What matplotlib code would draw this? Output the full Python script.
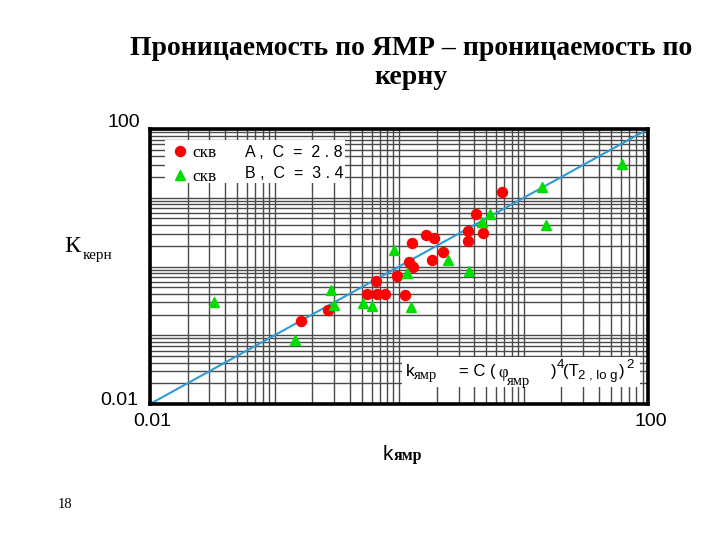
import matplotlib
matplotlib.use("Agg")
import matplotlib.pyplot as plt
from matplotlib.patches import Rectangle
from matplotlib.lines import Line2D

# ---- data ----
well_a_knmr = [0.162, 0.267, 0.652, 0.555, 0.667, 0.769, 0.966, 1.11, 1.19, 1.30,
               1.27, 1.63, 1.89, 1.82, 2.23, 3.57, 3.57, 4.71, 4.13, 6.65]
well_a_kcore = [0.163, 0.231, 0.621, 0.394, 0.394, 0.402, 0.728, 0.385, 1.16, 0.99,
                2.20, 2.84, 2.57, 1.23, 1.61, 3.25, 2.37, 3.10, 5.80, 12.0]
well_b_knmr = [0.0324, 0.146, 0.282, 0.298, 0.512, 0.605, 0.914, 1.16, 1.25, 2.48,
               3.65, 4.64, 5.35, 13.9, 15.0, 61.7]
well_b_kcore = [0.305, 0.0853, 0.455, 0.275, 0.290, 0.266, 1.76, 0.813, 0.260, 1.24,
                0.869, 4.44, 5.80, 14.5, 4.01, 31.0]
line_x = [0.01, 100]
line_y = [0.01, 100]
axis_limits = [0.01, 100]
tick_labels = ["0.01", "100"]
legend_labels = ["скв", "скв"]
legend_notes = ["A, C = 2.8", "B, C = 3.4"]
title = "Проницаемость по ЯМР – проницаемость по\nкерну"

SERIF = "Liberation Serif"
SANS = "Liberation Sans"
W, H = 720, 540

fig = plt.figure(figsize=(7.2, 5.4), dpi=100)
ax = fig.add_axes([150 / W, 1 - 404 / H, 498.3 / W, 275 / H])
ax.set_xscale("log")
ax.set_yscale("log")
ax.set_xlim(axis_limits)
ax.set_ylim(axis_limits)
ax.set_axisbelow(True)
ax.grid(which="both", color="#4a4a4a", lw=1.0)
ax.tick_params(which="both", length=0, labelleft=False, labelbottom=False)
for s in ax.spines.values():
    s.set_linewidth(2.6)
    s.set_color("black")

# white boxes
ax.add_patch(Rectangle((0.030, 0.8036), 0.361, 0.156, transform=ax.transAxes,
                       facecolor="white", edgecolor="none", zorder=1))
ax.add_patch(Rectangle((0.506, 0.0618), 0.478, 0.109, transform=ax.transAxes,
                       facecolor="white", edgecolor="none", zorder=1))

ax.plot(line_x, line_y, color="#2f9bd3", lw=1.5, zorder=2)
ax.plot(well_a_knmr, well_a_kcore, ls="none", marker="o", ms=7.2, color="#ff0000",
        mec="#ff0000", zorder=3)
ax.plot(well_b_knmr, well_b_kcore, ls="none", marker="^", ms=7.5, color="#00dd00",
        mec="#00dd00", zorder=3)

# legend
handles = [Line2D([], [], ls="none", marker="o", ms=7.2, color="#ff0000"),
           Line2D([], [], ls="none", marker="^", ms=7.5, color="#00dd00")]
leg = ax.legend(handles, legend_labels, loc="center left", bbox_to_anchor=(0.025, 0.87),
                frameon=False, handlelength=1.0, handletextpad=0.2, labelspacing=0.45,
                borderpad=0, prop={"family": SERIF, "size": 12.5})
leg.set_zorder(4)
for note, yp in zip(legend_notes, [152.5, 174]):
    fig.text(245 / W, 1 - yp / H, note.replace(", ", " ,  ").replace(" = ", "  =  ").replace(".", " . "),
             family=SANS, size=11.5, ha="left", va="center")

# tick labels
ax.text(-0.02, 1.0236, tick_labels[1], transform=ax.transAxes, ha="right", va="center",
        family=SANS, size=14)
ax.text(-0.024, 0.0145, tick_labels[0], transform=ax.transAxes, ha="right", va="center",
        family=SANS, size=14)
ax.text(0.004, -0.065, tick_labels[0], transform=ax.transAxes, ha="center", va="center",
        family=SANS, size=14)
ax.text(1.005, -0.062, tick_labels[1], transform=ax.transAxes, ha="center", va="center",
        family=SANS, size=14)

def put(x, y, s, **kw):
    fig.text(x / W, 1 - y / H, s, va="baseline", ha="left", **kw)

# axis labels
put(64, 252, "К", family=SERIF, size=17.5)
put(83, 259, "керн", family=SERIF, size=11)
put(383, 460, "k", family=SANS, size=15)
put(394, 460, "ямр", family=SERIF, size=11.5, weight="bold")

# formula
put(406, 376, "k", family=SANS, size=12.5)
put(414, 379, "ямр", family=SERIF, size=10.5)
put(459, 376, "= C (", family=SANS, size=12)
put(498, 377, "φ", family=SERIF, size=12)
put(507, 385, "ямр", family=SERIF, size=10.5)
put(551, 376, ")", family=SANS, size=12)
put(557, 368, "4", family=SANS, size=9.5)
put(563, 376, "(T", family=SANS, size=12)
put(578, 379, "2 , lo g", family=SANS, size=9.5)
put(619, 376, ")", family=SANS, size=12)
put(626, 368, "2", family=SANS, size=9.5)

# title
fig.text(411 / W, 1 - 63 / H, title, family=SERIF, weight="bold", size=20,
         ha="center", va="center", multialignment="center", linespacing=1.22)
put(58, 508, "18", family=SERIF, size=10.5)

fig.savefig("out.png", dpi=100)
